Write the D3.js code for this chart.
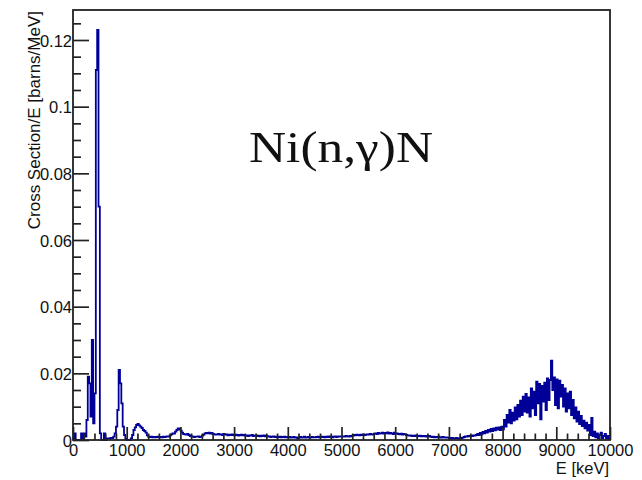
<!DOCTYPE html>
<html>
<head>
<meta charset="utf-8">
<script src="https://cdn.jsdelivr.net/npm/d3@7/dist/d3.min.js"></script>
<style>
	html, body { margin: 0; padding: 0; background: #fff; }
	text { font-family: "Liberation Sans", Arial, sans-serif; fill: #111; }
</style>
</head>
<body>
<div id="chart"></div>
<script>
'use strict';

// energy range of the histogram (keV), 25 keV bins
var energyRange = [0, 10000];

// cross section / E  [barns/MeV], one value per bin, 20 bins (500 keV) per row
var crossSection = [
	0, 0.002, 0, 0, 0, 0, 0.002, 0, 0.002, 0.001, 0.006, 0.019, 0.017, 0.007, 0.030, 0.005, 0.014, 0.111, 0.123, 0.070,
	0.002, 0, 0, 0.002, 0, 0.0005, 0.0005, 0.0004, 0.0006, 0.0006, 0.001, 0.002, 0.004, 0.009, 0.021, 0.017, 0.011, 0.004, 0.0015, 0.0003,
	0, 0, 0, 0.0005, 0.0015, 0.003, 0.0038, 0.0045, 0.0048, 0.0044, 0.0040, 0.0036, 0.0030, 0.0027, 0.0022, 0.0014, 0.0010, 0.0009, 0.0010, 0.0008,
	0.0009, 0.0008, 0.0009, 0.0010, 0.0008, 0.0009, 0.0008, 0.0010, 0.0009, 0.0010, 0.0011, 0.0010, 0.0014, 0.0017, 0.0020, 0.0019, 0.0025, 0.0030, 0.0035, 0.0033,
	0.0028, 0.0022, 0.0018, 0.0017, 0.0016, 0.0018, 0.0015, 0.0012, 0.0011, 0.0010, 0.0009, 0.0010, 0.0010, 0.0011, 0.0009, 0.0010, 0.0013, 0.0016, 0.0020, 0.0021,
	0.0020, 0.0022, 0.0019, 0.0021, 0.0018, 0.0017, 0.0016, 0.0017, 0.0018, 0.0016, 0.0017, 0.0015, 0.0018, 0.0016, 0.0017, 0.0014, 0.0016, 0.0015, 0.0017, 0.0015,
	0.0014, 0.0016, 0.0015, 0.0013, 0.0015, 0.0016, 0.0014, 0.0015, 0.0013, 0.0014, 0.0012, 0.0014, 0.0013, 0.0015, 0.0012, 0.0013, 0.0014, 0.0012, 0.0013, 0.0011,
	0.0013, 0.0012, 0.0014, 0.0011, 0.0012, 0.0010, 0.0011, 0.0009, 0.0010, 0.0011, 0.0009, 0.0010, 0.0008, 0.0009, 0.0010, 0.0008, 0.0009, 0.0010, 0.0008, 0.0009,
	0.0008, 0.0009, 0.0007, 0.0008, 0.0009, 0.0007, 0.0008, 0.0006, 0.0008, 0.0009, 0.0007, 0.0008, 0.0010, 0.0007, 0.0008, 0.0009, 0.0007, 0.0008, 0.0009, 0.0008,
	0.0008, 0.0009, 0.0010, 0.0008, 0.0009, 0.0010, 0.0009, 0.0008, 0.0010, 0.0009, 0.0011, 0.0009, 0.0010, 0.0008, 0.0010, 0.0011, 0.0009, 0.0010, 0.0011, 0.0010,
	0.0010, 0.0011, 0.0010, 0.0012, 0.0011, 0.0010, 0.0012, 0.0011, 0.0013, 0.0015, 0.0014, 0.0016, 0.0015, 0.0014, 0.0016, 0.0015, 0.0017, 0.0015, 0.0016, 0.0017,
	0.0016, 0.0018, 0.0017, 0.0016, 0.0019, 0.0020, 0.0018, 0.0021, 0.0019, 0.0020, 0.0022, 0.0019, 0.0021, 0.0020, 0.0023, 0.0019, 0.0021, 0.0020, 0.0018, 0.0022,
	0.0019, 0.0020, 0.0018, 0.0017, 0.0019, 0.0016, 0.0018, 0.0017, 0.0015, 0.0014, 0.0013, 0.0014, 0.0012, 0.0013, 0.0012, 0.0014, 0.0011, 0.0012, 0.0013, 0.0011,
	0.0012, 0.0011, 0.0012, 0.0010, 0.0011, 0.0012, 0.0010, 0.0009, 0.0010, 0.0008, 0.0009, 0.0008, 0.0010, 0.0008, 0.0007, 0.0009, 0.0008, 0.0007, 0.0008, 0.0007,
	0.0006, 0.0005, 0.0006, 0.0004, 0.0005, 0.0006, 0.0005, 0.0004, 0.0006, 0.0005, 0.0007, 0.0009, 0.0011, 0.0010, 0.0012, 0.0011, 0.0013, 0.0012, 0.0014, 0.0013,
	0.0015, 0.0018, 0.0015, 0.0021, 0.0017, 0.0024, 0.0020, 0.0027, 0.0022, 0.0030, 0.0025, 0.0033, 0.0027, 0.0035, 0.0029, 0.0037, 0.0031, 0.0038, 0.0030, 0.0040,
	0.0032, 0.0060, 0.0040, 0.0075, 0.0052, 0.0090, 0.0050, 0.0082, 0.0058, 0.0098, 0.0062, 0.0105, 0.0070, 0.0118, 0.0075, 0.0130, 0.0085, 0.0138, 0.0082, 0.0128,
	0.0070, 0.0155, 0.0095, 0.0145, 0.0075, 0.0175, 0.0110, 0.0168, 0.0062, 0.0162, 0.0115, 0.0172, 0.0090, 0.0185, 0.0120, 0.0180, 0.0238, 0.0150, 0.0188, 0.0105,
	0.0182, 0.0095, 0.0178, 0.0130, 0.0165, 0.0100, 0.0155, 0.0085, 0.0140, 0.0095, 0.0145, 0.0075, 0.0120, 0.0065, 0.0098, 0.0055, 0.0085, 0.0048, 0.0072, 0.0042,
	0.0058, 0.0035, 0.0052, 0.0028, 0.0045, 0.0015, 0.0066, 0.0012, 0.0025, 0.0008, 0.0020, 0.0006, 0.0015, 0.0022, 0.0005, 0.0012, 0.0018, 0.0004, 0.0012, 0.0003
];

var xTicks = [0, 1000, 2000, 3000, 4000, 5000, 6000, 7000, 8000, 9000, 10000];
var xTickLabels = ["0", "1000", "2000", "3000", "4000", "5000", "6000", "7000", "8000", "9000", "10000"];
var yTicks = [0, 0.02, 0.04, 0.06, 0.08, 0.1, 0.12];
var yTickLabels = ["0", "0.02", "0.04", "0.06", "0.08", "0.1", "0.12"];
var yMax = 0.129;

var xTitle = "E [keV]";
var yTitle = "Cross Section/E [barns/MeV]";
var annotation = "Ni(n,\u03b3)N";

var width = 642, height = 480;
var frame = {left: 73, right: 610, top: 10, bottom: 440};

var svg = d3.select("#chart").append("svg")
	.attr("width", width)
	.attr("height", height);

var x = d3.scaleLinear().domain(energyRange).range([frame.left, frame.right]);
var y = d3.scaleLinear().domain([0, yMax]).range([frame.bottom, frame.top]);

var binWidth = (energyRange[1] - energyRange[0]) / crossSection.length;

// step outline, as ROOT draws a histogram
var pts = [[energyRange[0], 0]];
crossSection.forEach(function(v, i){
	var lo = energyRange[0] + i * binWidth;
	pts.push([lo, v]);
	pts.push([lo + binWidth, v]);
});
pts.push([energyRange[1], 0]);

var line = d3.line()
	.x(function(d){return x(d[0]);})
	.y(function(d){return y(d[1]);});

svg.append("path")
	.attr("class", "hist")
	.attr("d", line(pts))
	.attr("fill", "none")
	.attr("stroke", "#000099")
	.attr("stroke-width", 1.8)
	.attr("stroke-linejoin", "miter");

// minor ticks
var xMinor = d3.range(0, 10001, 200).filter(function(d){return d % 1000 != 0;});
var yMinor = d3.range(0, 26).map(function(i){return i * 0.005;}).filter(function(d, i){return i % 4 != 0;});

svg.append("g")
	.attr("class", "x-minor")
	.attr("transform", "translate(0," + frame.bottom + ")")
	.call(d3.axisBottom(x).tickValues(xMinor).tickSize(-6.5).tickFormat(""));

svg.append("g")
	.attr("class", "y-minor")
	.attr("transform", "translate(" + frame.left + ",0)")
	.call(d3.axisLeft(y).tickValues(yMinor).tickSize(-8).tickFormat(""));

var xAxis = svg.append("g")
	.attr("class", "x-axis")
	.attr("transform", "translate(0," + frame.bottom + ")")
	.call(d3.axisBottom(x).tickValues(xTicks).tickSize(-13).tickPadding(0)
		.tickFormat(function(d, i){return xTickLabels[i];}));

var yAxis = svg.append("g")
	.attr("class", "y-axis")
	.attr("transform", "translate(" + frame.left + ",0)")
	.call(d3.axisLeft(y).tickValues(yTicks).tickSize(-16).tickPadding(0)
		.tickFormat(function(d, i){return yTickLabels[i];}));

svg.selectAll(".x-minor line, .y-minor line, .x-axis line, .y-axis line")
	.attr("stroke", "#222")
	.attr("stroke-width", 1.7);
svg.selectAll(".domain").remove();

xAxis.selectAll("text")
	.attr("y", 16)
	.attr("dy", 0)
	.style("font-size", "16.5px")
	.style("font-family", "Liberation Sans, Arial, sans-serif")
	.attr("fill", "#111");

yAxis.selectAll("text")
	.attr("x", -1)
	.attr("dy", 6)
	.style("font-size", "16.5px")
	.style("font-family", "Liberation Sans, Arial, sans-serif")
	.attr("fill", "#111");

// frame
svg.append("rect")
	.attr("x", frame.left)
	.attr("y", frame.top)
	.attr("width", frame.right - frame.left)
	.attr("height", frame.bottom - frame.top)
	.attr("fill", "none")
	.attr("stroke", "#222")
	.attr("stroke-width", 1.8);

// axis titles
svg.append("text")
	.attr("x", frame.right - 1)
	.attr("y", 473.5)
	.attr("text-anchor", "end")
	.style("font-size", "16.5px")
	.text(xTitle);

svg.append("text")
	.attr("transform", "translate(40," + (frame.top + 1) + ") rotate(-90)")
	.attr("text-anchor", "end")
	.style("font-size", "17px")
	.text(yTitle);

svg.append("text")
	.attr("x", 249)
	.attr("y", 162)
	.attr("textLength", 184)
	.attr("lengthAdjust", "spacingAndGlyphs")
	.style("font-family", "Liberation Serif, Times New Roman, serif")
	.style("font-size", "45px")
	.attr("fill", "#000")
	.text(annotation);
</script>
</body>
</html>
